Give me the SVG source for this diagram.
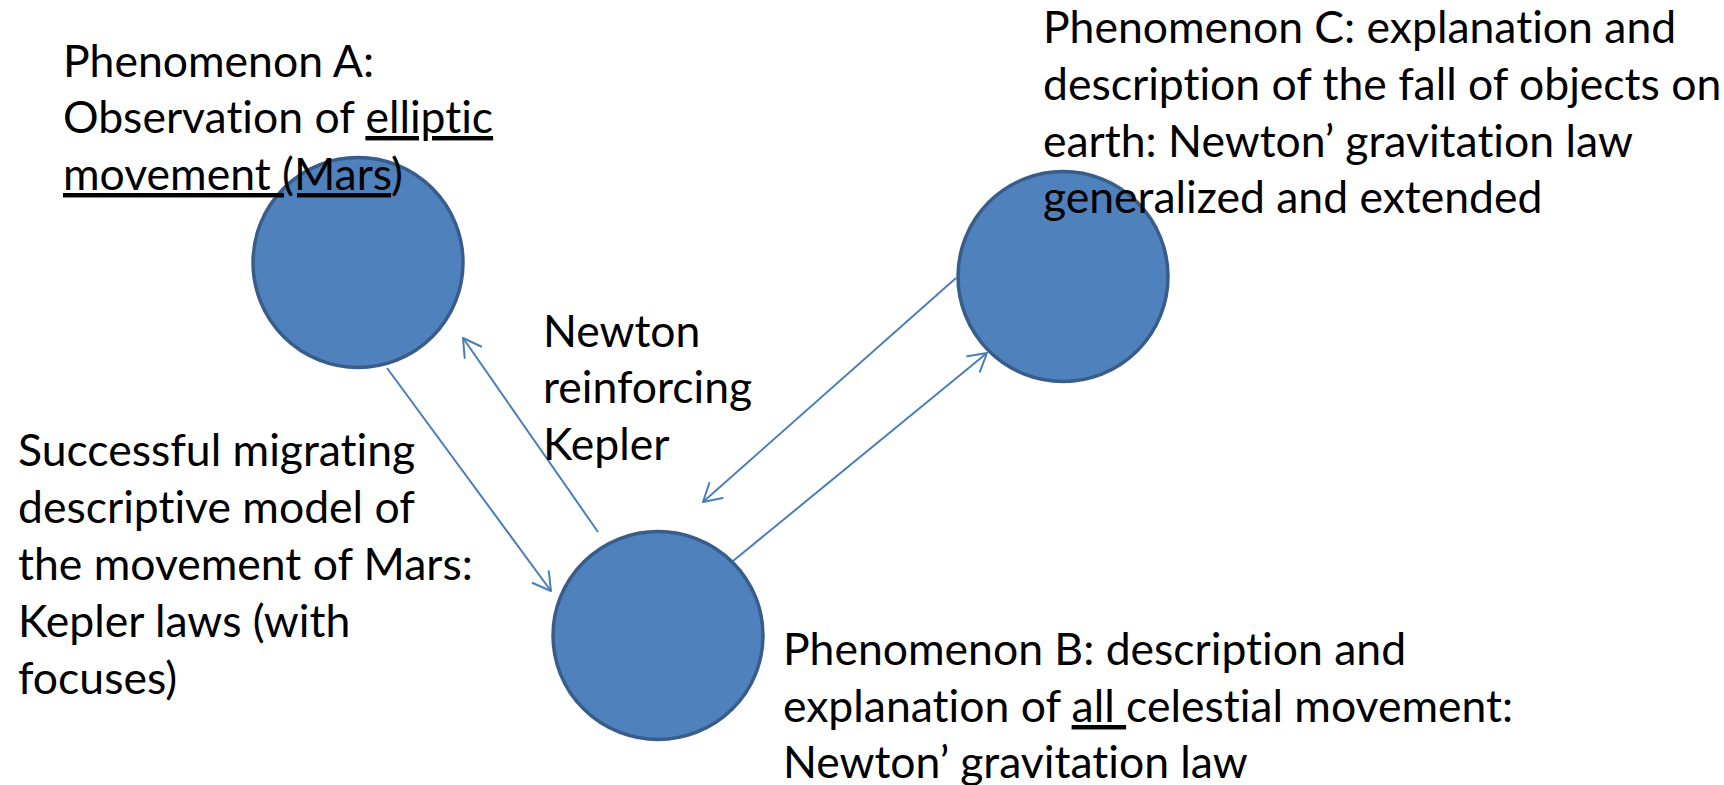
<svg xmlns="http://www.w3.org/2000/svg" width="1724" height="785" viewBox="0 0 1724 785">
<style>
  .node { fill: #4f81bd; stroke: #385d8a; stroke-width: 3.5; }
  .lbl { font-family: Lato, "Open Sans", "Liberation Sans", sans-serif; font-size: 44.5px; fill: #000; font-variant-ligatures: none; font-feature-settings: "liga" 0, "clig" 0, "dlig" 0; }
  .u { text-decoration: underline; }
  .conn { stroke: #4a7ebb; stroke-width: 2; fill: none; marker-end: url(#arr); }
</style>
<defs>
  <marker id="arr" markerUnits="userSpaceOnUse" viewBox="-20 -12 22 24" refX="0" refY="0" markerWidth="22" markerHeight="24" orient="auto">
    <path d="M -17.3 -10 L 0 0 L -17.3 10" fill="none" stroke="#4a7ebb" stroke-width="2" stroke-linecap="round" stroke-linejoin="round"/>
  </marker>
</defs>
<rect width="1724" height="785" fill="#fff"/>

<g id="nodeA">
  <ellipse class="node" cx="358" cy="262.5" rx="105" ry="105"/>
  <text class="lbl" x="63" y="77">Phenomenon A:</text>
  <text class="lbl" x="63" y="133">Observation of <tspan class="u">elliptic</tspan></text>
  <text class="lbl" x="63" y="190"><tspan class="u">movement (Mars</tspan>)</text>
</g>

<g id="nodeB">
  <ellipse class="node" cx="658" cy="635.5" rx="105" ry="104"/>
  <text class="lbl" x="783" y="665">Phenomenon B: description and</text>
  <text class="lbl" x="783" y="722">explanation of <tspan class="u">all </tspan>celestial movement:</text>
  <text class="lbl" x="783" y="778">Newton’ gravitation law</text>
</g>

<g id="nodeC">
  <ellipse class="node" cx="1063" cy="276.5" rx="105" ry="105"/>
  <text class="lbl" x="1043" y="43">Phenomenon C: explanation and</text>
  <text class="lbl" x="1043" y="100">description of the fall of objects on</text>
  <text class="lbl" x="1043" y="157">earth: Newton’ gravitation law</text>
  <text class="lbl" x="1043" y="213">generalized and extended</text>
</g>

<g id="connectors">
  <line class="conn" x1="387" y1="368" x2="551" y2="591"/>
  <line class="conn" x1="598" y1="532" x2="463" y2="338"/>
  <line class="conn" x1="956" y1="278" x2="703" y2="502"/>
  <line class="conn" x1="733" y1="561" x2="987" y2="353"/>
</g>

<g id="label-migration">
  <text class="lbl" x="18" y="466">Successful migrating</text>
  <text class="lbl" x="18" y="523">descriptive model of</text>
  <text class="lbl" x="18" y="580">the movement of Mars:</text>
  <text class="lbl" x="18" y="637">Kepler laws (with</text>
  <text class="lbl" x="18" y="694">focuses)</text>
</g>

<g id="label-newton">
  <text class="lbl" x="543" y="347">Newton</text>
  <text class="lbl" x="543" y="403">reinforcing</text>
  <text class="lbl" x="543" y="460">Kepler</text>
</g>
</svg>
